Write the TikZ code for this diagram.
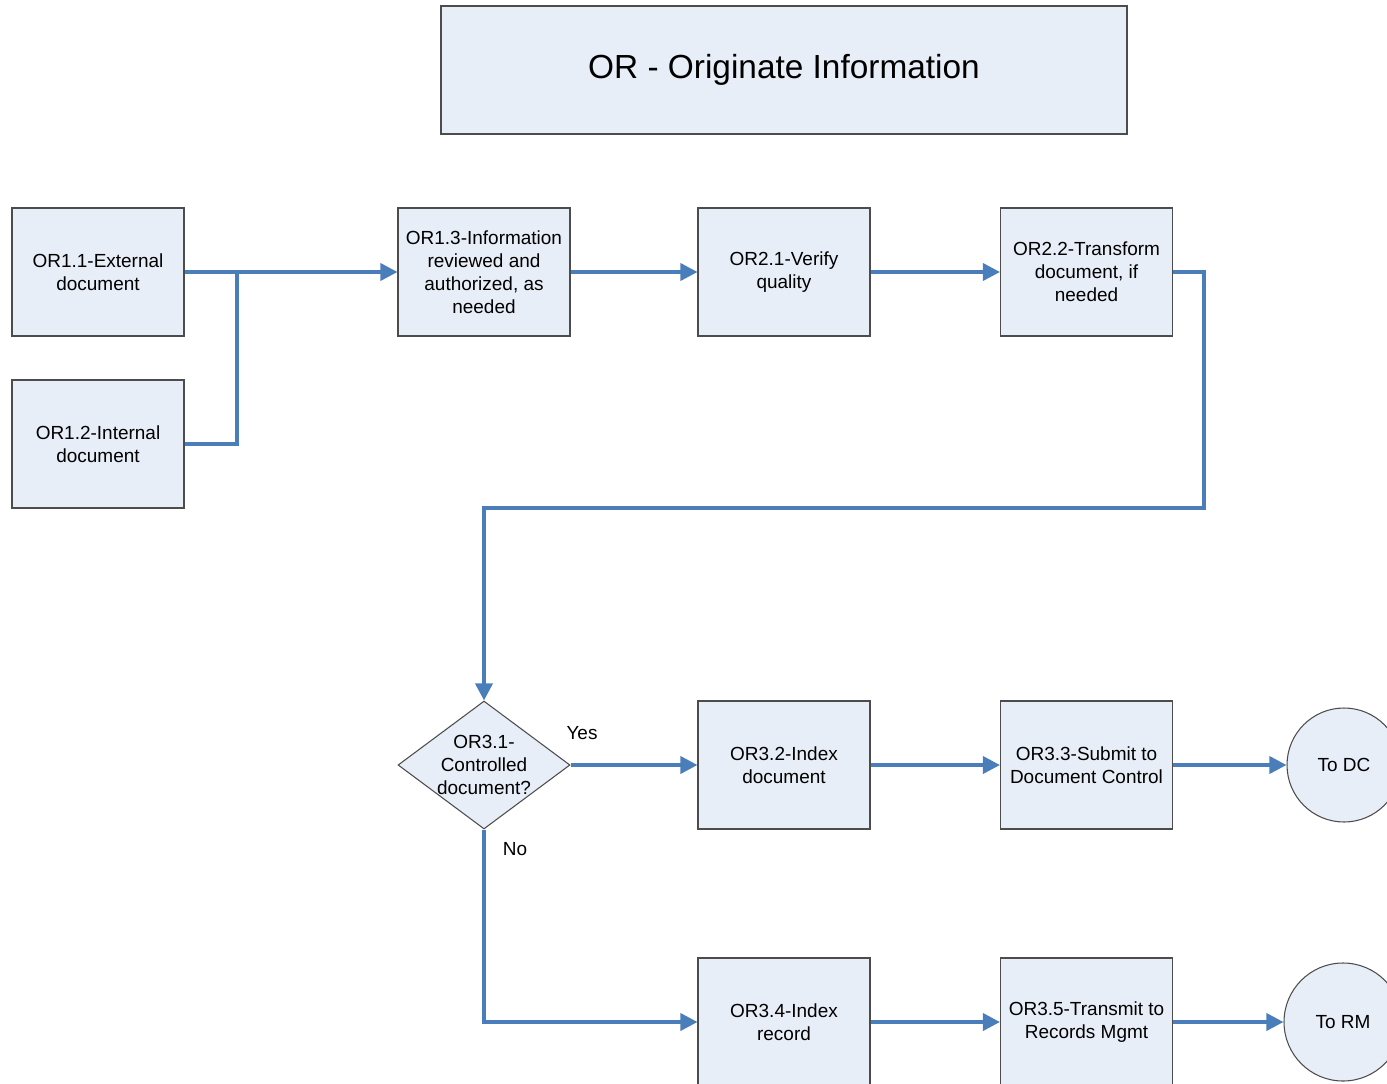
\documentclass[tikz,border=0pt]{standalone}
\usepackage{fontspec}
\setmainfont{Liberation Sans}
\usetikzlibrary{shapes.geometric,arrows.meta}
\definecolor{boxfill}{HTML}{E8EEF7}
\definecolor{linkblue}{HTML}{4A7EBB}

\begin{document}
\begin{tikzpicture}[
        box/.style={draw=black!70, line width=0.6pt, fill=boxfill, minimum width=3.44cm, minimum height=2.56cm, inner sep=0pt, align=center},
        decision/.style={diamond, draw=black!70, line width=0.6pt, fill=boxfill, minimum width=3.44cm, minimum height=2.56cm, inner sep=0pt},
        endpoint/.style={circle, draw=black!70, line width=0.6pt, fill=boxfill, inner sep=0pt},
        flowline/.style={draw=linkblue, line width=2pt},
        flowarrow/.style={flowline, -{Triangle[length=0.34cm, width=0.34cm]}},
    ]
            \fontsize{10.8}{13.1}\selectfont
            \useasboundingbox (0,0) rectangle (27.74,-21.68);

            \node[box, minimum width=13.72cm, font=\fontsize{19}{23}\selectfont] (title) at (15.68,-1.40) {OR - Originate Information};

            \node[box] (external) at (1.96,-5.44) {OR1.1-External\\document};
            \node[box] (internal) at (1.96,-8.88) {OR1.2-Internal\\document};
            \node[box] (review) at (9.68,-5.44) {OR1.3-Information\\reviewed and\\authorized, as\\needed};
            \node[box] (verify) at (15.68,-5.44) {OR2.1-Verify\\quality};
            \node[box] (transform) at (21.73,-5.44) {OR2.2-Transform\\document, if\\needed};

            \node[decision, label={[align=center]center:OR3.1-\\Controlled\\document?}] (controlled) at (9.68,-15.30) {};
            \node[box] (indexdoc) at (15.68,-15.30) {OR3.2-Index\\document};
            \node[box] (submit) at (21.73,-15.30) {OR3.3-Submit to\\Document Control};
            \node[endpoint, minimum size=2.28cm] (todc) at (26.88,-15.30) {To DC};

            \node[box] (indexrec) at (15.68,-20.44) {OR3.4-Index\\record};
            \node[box] (transmit) at (21.73,-20.44) {OR3.5-Transmit to\\Records Mgmt};
            \node[endpoint, minimum size=2.36cm] (torm) at (26.86,-20.44) {To RM};

            \node (yes) at (11.64,-14.66) {Yes};
            \node (no) at (10.30,-16.98) {No};

            \coordinate (join) at (4.74,-5.44);
            \coordinate (bend) at (24.08,-10.16);

            % first row
            \draw[flowline] (internal.east) -| (join);
            \draw[flowarrow] (external.east) -- (review.west);
            \draw[flowarrow] (review) -- (verify);
            \draw[flowarrow] (verify) -- (transform);
            \draw[flowarrow] (transform.east) -| (bend) -| (controlled.north);

            % decision branches
            \draw[flowarrow] (controlled.east) -- (indexdoc.west);
            \draw[flowarrow] (indexdoc) -- (submit);
            \draw[flowarrow] (submit) -- (todc);
            \draw[flowarrow] (controlled.south) |- (indexrec.west);
            \draw[flowarrow] (indexrec) -- (transmit);
            \draw[flowarrow] (transmit) -- (torm);
        \end{tikzpicture}
\end{document}
